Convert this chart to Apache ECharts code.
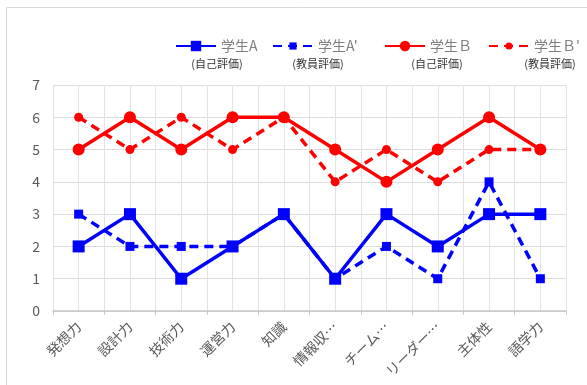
<!DOCTYPE html>
<html>
<head>
<meta charset="utf-8">
<script src="https://cdn.jsdelivr.net/npm/echarts@6/dist/echarts.min.js"></script>
<style>
  html, body { margin: 0; padding: 0; background: #fff; }
  #chart { width: 587px; height: 385px; }
</style>
</head>
<body>
<div id="chart"></div>
<script>
// Skill categories on the x axis
const categories = ['発想力', '設計力', '技術力', '運営力', '知識', '情報収…', 'チーム…', 'リーダー…', '主体性', '語学力'];

// Scores per student (self assessment vs. teacher assessment)
const studentA = [2, 3, 1, 2, 3, 1, 3, 2, 3, 3];
const studentATeacher = [3, 2, 2, 2, 3, 1, 2, 1, 4, 1];
const studentB = [5, 6, 5, 6, 6, 5, 4, 5, 6, 5];
const studentBTeacher = [6, 5, 6, 5, 6, 4, 5, 4, 5, 5];

// Series names and their sub captions
const seriesNames = ['学生A', '学生A\'', '学生Ｂ', '学生Ｂ\''];
const subCaptions = ['(自己評価)', '(教員評価)', '(自己評価)', '(教員評価)'];

// Y axis range
const yMin = 0, yMax = 7, yStep = 1;

const BLUE = '#0000ff';
const RED = '#ff0000';
const FONT = '"Noto Sans CJK JP", "Noto Sans", sans-serif';

const chart = echarts.init(document.getElementById('chart'), null, { renderer: 'canvas' });

// One legend per series so each entry can sit at its own spot
function legendAt(name, left, iconH) {
  return {
    data: [name],
    left: left,
    top: 36,
    padding: 0,
    itemWidth: 40,
    itemHeight: iconH,
    textStyle: { color: '#808080', fontSize: 14, fontFamily: FONT, lineHeight: 20 }
  };
}

const legendLeft = [175, 272, 384, 488];
const legendIcon = [13, 9, 13, 9];
const captionX = [217, 318, 437, 550];

function makeSeries(name, data, color, dashed, symbol, size) {
  return {
    name: name,
    type: 'line',
    data: data,
    xAxisIndex: 0,
    symbol: symbol,
    symbolSize: size,
    showSymbol: true,
    lineStyle: { color: color, width: 3.5, type: dashed ? [9, 6] : 'solid' },
    itemStyle: { color: color, borderWidth: 0 },
    emphasis: { disabled: true },
    animation: false,
    z: dashed ? 3 : 4
  };
}

const option = {
  animation: false,
  textStyle: { fontFamily: FONT },
  legend: seriesNames.map((n, i) => legendAt(n, legendLeft[i], legendIcon[i])),
  grid: { left: 53, right: 21, top: 85, bottom: 74 },
  xAxis: [
    {
      type: 'category',
      data: categories,
      boundaryGap: true,
      axisLine: { show: true, lineStyle: { color: '#c8c8c8', width: 1.5 } },
      axisTick: { show: true, length: 4, alignWithLabel: false, lineStyle: { color: '#c8c8c8' } },
      axisLabel: { rotate: 45, color: '#595959', fontSize: 14, margin: 13, fontFamily: FONT, interval: 0 },
      splitLine: { show: false }
    },
    {
      // half-category grid lines (centres and boundaries)
      type: 'value',
      min: 0,
      max: categories.length * 2,
      interval: 1,
      position: 'bottom',
      axisLine: { show: false },
      axisTick: { show: false },
      axisLabel: { show: false },
      splitLine: { show: true, lineStyle: { color: '#e3e3e3', width: 1 } }
    }
  ],
  yAxis: {
    type: 'value',
    min: yMin,
    max: yMax,
    interval: yStep,
    axisLine: { show: false },
    axisTick: { show: false },
    axisLabel: { color: '#595959', fontSize: 14, margin: 13, fontFamily: FONT },
    splitLine: { show: true, lineStyle: { color: '#dcdcdc', width: 1 } }
  },
  graphic: [
    {
      type: 'rect',
      shape: { x: 6.5, y: 7.5, width: 620, height: 420 },
      style: { fill: 'none', stroke: '#d9d9d9', lineWidth: 1 },
      silent: true,
      z: -10
    }
  ].concat(subCaptions.map((t, i) => ({
    type: 'text',
    x: captionX[i],
    y: 64,
    style: {
      text: t,
      fill: '#333333',
      font: '11px ' + FONT,
      textAlign: 'center',
      textVerticalAlign: 'middle'
    },
    silent: true
  }))),
  series: [
    makeSeries(seriesNames[0], studentA, BLUE, false, 'rect', 12),
    makeSeries(seriesNames[1], studentATeacher, BLUE, true, 'rect', 9),
    makeSeries(seriesNames[2], studentB, RED, false, 'circle', 12),
    makeSeries(seriesNames[3], studentBTeacher, RED, true, 'circle', 9)
  ]
};

chart.setOption(option);
</script>
</body>
</html>
